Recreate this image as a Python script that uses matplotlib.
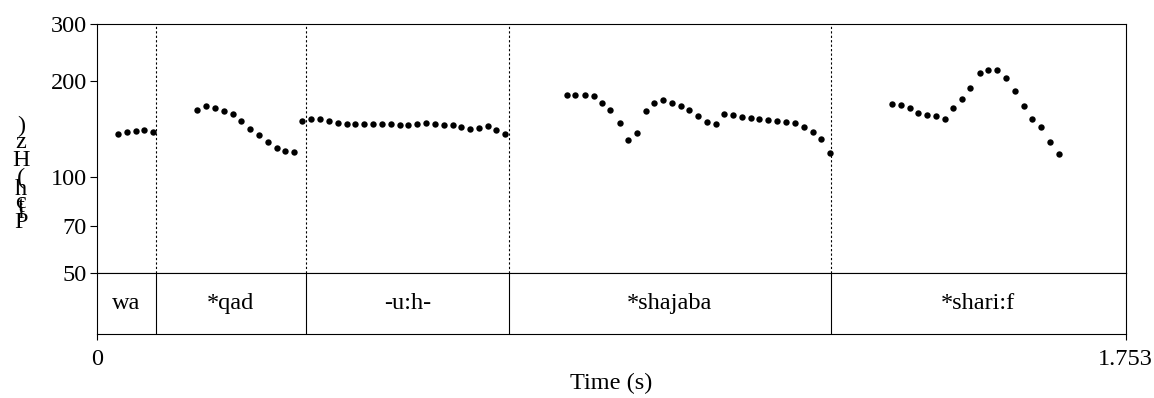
import matplotlib.pyplot as plt

plt.rcParams['font.family'] = ['Liberation Serif', 'DejaVu Serif']

# pitch track (time in s, F0 in Hz)
t_wa = [0.0368, 0.0511, 0.0665, 0.0806, 0.0954]
f_wa = [136.0, 137.6, 139.2, 140.3, 137.6]

t_qad = [0.1704, 0.1862, 0.2011, 0.2164, 0.2317, 0.2459, 0.2612, 0.2760,
         0.2919, 0.3067, 0.3214, 0.3357]
f_qad = [161.7, 166.4, 164.4, 160.1, 156.7, 149.6, 141.3, 135.0,
         128.6, 122.9, 120.5, 119.6]

t_uh = [0.3503, 0.3651, 0.3805, 0.3953, 0.4106, 0.4260, 0.4406, 0.4560,
        0.4708, 0.4861, 0.5009, 0.5163, 0.5309, 0.5463, 0.5611, 0.5764,
        0.5912, 0.6066, 0.6212, 0.6361, 0.6514, 0.6662, 0.6809, 0.6957]
f_uh = [149.6, 151.2, 151.2, 149.6, 147.5, 146.1, 146.4, 146.4,
        146.1, 145.8, 145.8, 145.4, 145.4, 146.1, 146.9, 146.4,
        145.4, 144.8, 142.7, 141.3, 141.7, 144.0, 140.3, 136.0]

t_shajaba = [0.8013, 0.8155, 0.8315, 0.8468, 0.8615, 0.8751, 0.8911, 0.9058,
             0.9206, 0.9359, 0.9496, 0.9649, 0.9797, 0.9951, 1.0097, 1.0251,
             1.0394, 1.0547, 1.0688, 1.0842, 1.0990, 1.1143, 1.1290, 1.1443,
             1.1597, 1.1745, 1.1898, 1.2046, 1.2200, 1.2341, 1.2494]
f_shajaba = [180.5, 180.5, 180.5, 178.5, 170.4, 162.0, 146.9, 130.5,
             136.6, 160.1, 170.4, 173.8, 170.4, 166.4, 162.0, 154.8,
             148.6, 146.1, 156.7, 155.9, 153.7, 152.6, 151.5, 150.8,
             149.6, 148.6, 146.9, 143.0, 138.2, 131.1, 118.3]

t_sharif = [1.3551, 1.3699, 1.3852, 1.3994, 1.4152, 1.4295, 1.4454, 1.4590,
            1.4743, 1.4885, 1.5050, 1.5192, 1.5345, 1.5498, 1.5646, 1.5800,
            1.5942, 1.6095, 1.6243, 1.6402]
f_sharif = [168.5, 167.2, 164.0, 158.5, 155.6, 154.5, 151.8, 164.0,
            175.0, 189.4, 211.6, 215.8, 215.8, 203.2, 185.8, 166.0,
            151.8, 143.0, 128.0, 117.7]

# word tier
words = ['wa', '*qad', '-u:h-', '*shajaba', '*shari:f']
bounds = [0.0, 0.1016, 0.3558, 0.7030, 1.2506, 1.753]

t_end = 1.753
f_ticks = [50, 70, 100, 200, 300]

W, H = 1154, 398
fs = 17.5
fig = plt.figure(figsize=(W / 100, H / 100), dpi=100)

x0, x1 = 96.7 / W, 1125.5 / W
top, mid, bot = 1 - 24.3 / H, 1 - 272.7 / H, 1 - 334.3 / H

ax = fig.add_axes([x0, mid, x1 - x0, top - mid])
tier = fig.add_axes([x0, bot, x1 - x0, mid - bot])

for t, f in [(t_wa, f_wa), (t_qad, f_qad), (t_uh, f_uh),
             (t_shajaba, f_shajaba), (t_sharif, f_sharif)]:
    ax.plot(t, f, 'o', color='black', markersize=4.6, markeredgewidth=0)

ax.set_yscale('log')
ax.set_ylim(50, 300)
ax.set_xlim(0, t_end)
ax.set_yticks(f_ticks)
ax.set_yticklabels([str(v) for v in f_ticks])
ax.minorticks_off()
ax.tick_params(axis='y', direction='out', length=5, width=0.8, pad=2,
               labelsize=fs)
ax.set_xticks([])
for b in bounds[1:-1]:
    ax.axvline(b, color='black', lw=0.8, ls=(0, (2, 2)))
for s in ax.spines.values():
    s.set_linewidth(0.8)

tier.set_xlim(0, t_end)
tier.set_ylim(0, 1)
tier.set_yticks([])
tier.set_xticks([0, t_end])
tier.set_xticklabels(['0', '1.753'])
tier.tick_params(axis='x', direction='out', length=4.5, width=0.8, pad=6,
                 labelsize=fs)
for b in bounds[1:-1]:
    tier.axvline(b, color='black', lw=0.8)
for i, w in enumerate(words):
    tier.text((bounds[i] + bounds[i + 1]) / 2, 0.5, w, ha='center',
              va='center', fontsize=fs)
for s in tier.spines.values():
    s.set_linewidth(0.8)

fig.text(611 / W, 1 - 383 / H, 'Time (s)', ha='center', va='center',
         fontsize=fs)

# vertical axis name, glyphs kept upright and stacked bottom to top
label_chars = ['P', 'i', 't', 'c', 'h', '(', 'H', 'z', ')']
label_y = [222, 212, 207, 202, 190, 178, 160, 142, 126]
for ch, yy in zip(label_chars, label_y):
    fig.text(21 / W, 1 - yy / H, ch, ha='center', va='center', fontsize=fs)

fig.savefig('out.png', dpi=100)
